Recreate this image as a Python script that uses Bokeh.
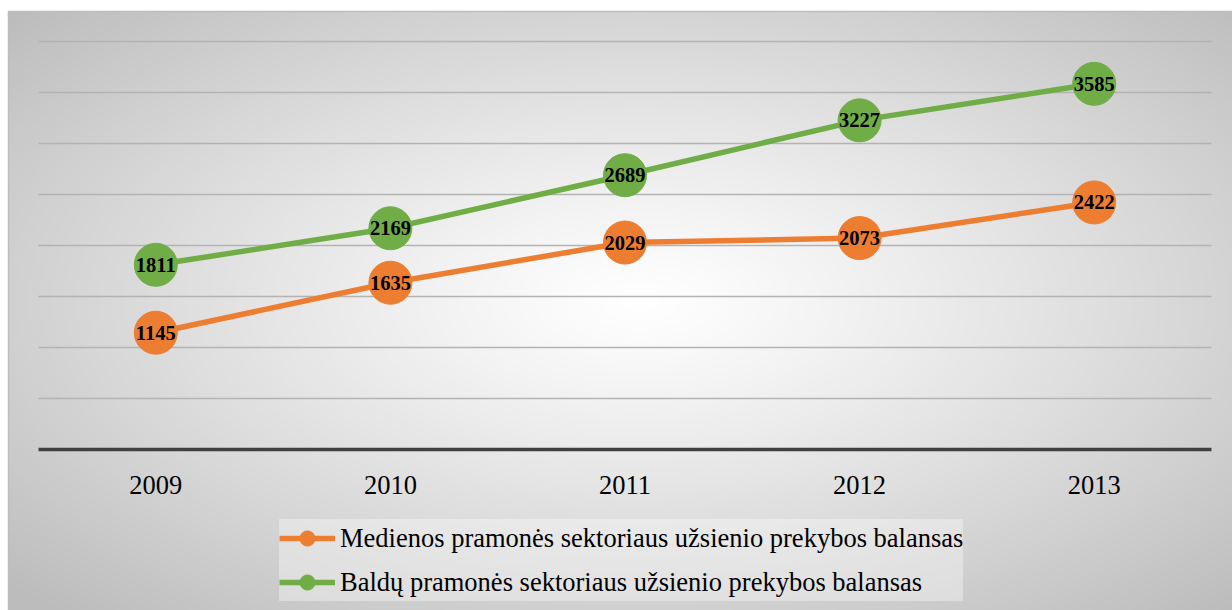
import numpy as np
from bokeh.plotting import figure
from bokeh.models import (ColumnDataSource, Range1d, FixedTicker, Legend, LegendItem)
from bokeh.core.properties import value
from bokeh.embed import file_html
from bokeh.resources import INLINE

# ---- data ----
years = ["2009", "2010", "2011", "2012", "2013"]
mediena = [1145, 1635, 2029, 2073, 2422]
baldai = [1811, 2169, 2689, 3227, 3585]
grid_values = [500, 1000, 1500, 2000, 2500, 3000, 3500, 4000]
series_names = ["Medienos pramonės sektoriaus užsienio prekybos balansas",
                "Baldų pramonės sektoriaus užsienio prekybos balansas"]

W, H = 1232, 610
PX_X = 234.6          # px per category
PX_Y = 0.102          # px per unit
X0_PX, Y0_PX = 38, 449

x_start = -X0_PX / PX_X
x_end = (W - X0_PX) / PX_X
y_end = Y0_PX / PX_Y
y_start = -(H - Y0_PX) / PX_Y

p = figure(width=W, height=H, output_backend="svg", toolbar_location=None,
           x_range=Range1d(x_start, x_end), y_range=Range1d(y_start, y_end),
           min_border=0, outline_line_color=None)
p.background_fill_color = "white"
p.border_fill_color = "white"
p.yaxis.visible = False
p.xgrid.visible = False
p.ygrid.visible = False

# ---- radial gradient background (chart area) ----
bx0, by0 = 8, 11
bw, bh = W - bx0, H - by0
nx, ny = bw // 2, bh // 2
xs = bx0 + (np.arange(nx) + 0.5) * 2
ys = by0 + (np.arange(ny) + 0.5) * 2
XX, YY = np.meshgrid(xs, ys)
cx, cy = 640, 300
d = np.sqrt(((XX - cx) / (bw / 2)) ** 2 + ((YY - cy) / (bh / 2)) ** 2) / np.sqrt(2)
d = np.clip(d, 0, 1) ** 1.15
g = (255 - d * (255 - 188)).astype(np.uint32)
img = (255 << 24) | (g << 16) | (g << 8) | g
img = img[::-1, :].copy()
img_x = (bx0 - X0_PX) / PX_X
img_y = y_start
img_dw = bw / PX_X
img_dh = bh / PX_Y
p.image_rgba(image=[img.view(np.uint32)], x=img_x, y=img_y, dw=img_dw, dh=img_dh, level="image")
p.quad(left=[img_x], right=[x_end + 1], bottom=[y_start - 100], top=[img_y + img_dh],
       fill_color=None, line_color="#bdbdbd", line_width=1.5, level="image")

# ---- gridlines ----
p.segment(x0=[0] * len(grid_values), x1=[5] * len(grid_values), y0=grid_values, y1=grid_values,
          line_color="#b3b3b3", line_width=1.5, level="underlay")

# ---- x axis ----
xpos = [i + 0.5 for i in range(len(years))]
p.xaxis.fixed_location = 0
p.xaxis.bounds = (0, 5)
p.xaxis.ticker = FixedTicker(ticks=xpos)
p.xaxis.major_label_overrides = {x: y for x, y in zip(xpos, years)}
p.xaxis.axis_line_color = "#404040"
p.xaxis.axis_line_width = 3.5
p.xaxis.major_tick_line_color = None
p.xaxis.minor_tick_line_color = None
p.xaxis.major_label_text_font = "Liberation Serif"
p.xaxis.major_label_text_font_size = "26.5px"
p.xaxis.major_label_text_color = "#000000"
p.xaxis.major_label_standoff = 20

orange = "#ED7D31"
green = "#70AD47"

src_m = ColumnDataSource(dict(x=xpos, y=mediena, t=[str(v) for v in mediena]))
src_b = ColumnDataSource(dict(x=xpos, y=baldai, t=[str(v) for v in baldai]))

lm = p.line("x", "y", source=src_m, line_color=orange, line_width=5.5)
sm = p.scatter("x", "y", source=src_m, size=43, fill_color=orange, line_color=orange)
lb = p.line("x", "y", source=src_b, line_color=green, line_width=5.5)
sb = p.scatter("x", "y", source=src_b, size=43, fill_color=green, line_color=green)

for src in (src_m, src_b):
    p.text("x", "y", text="t", source=src, text_font=value("Liberation Serif"),
           text_font_style="bold", text_font_size="20.5px", text_align="center",
           text_baseline="middle", text_color="black")

legend = Legend(items=[LegendItem(label=series_names[0], renderers=[lm, sm]),
                       LegendItem(label=series_names[1], renderers=[lb, sb])],
                location=(279, 9), orientation="vertical")
legend.label_text_font = "Liberation Serif"
legend.label_text_font_size = "26.5px"
legend.label_text_color = "#000000"
legend.glyph_width = 56
legend.glyph_height = 38
legend.label_height = 38
legend.label_standoff = 5
legend.spacing = 6
legend.padding = 5
legend.margin = 0
legend.background_fill_color = "#ffffff"
legend.background_fill_alpha = 0.35
legend.border_line_color = None
p.add_layout(legend, "center")

open("out.html", "w").write(file_html(p, INLINE))
